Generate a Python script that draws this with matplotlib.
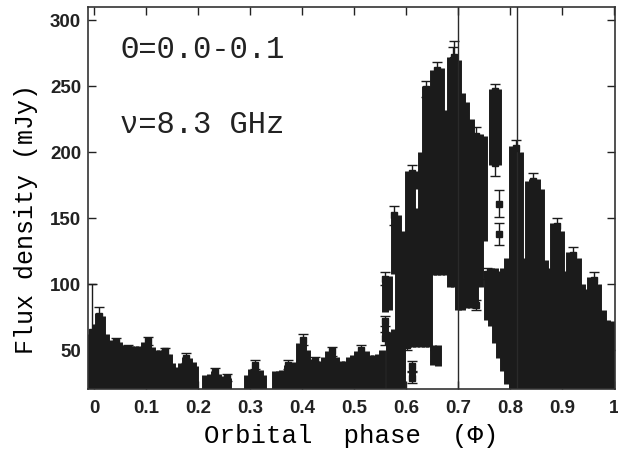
import matplotlib.pyplot as plt

plt.rcParams['font.family'] = ['Liberation Mono', 'DejaVu Sans Mono']

# dense stacks of overlapping measurements: phase, lowest and highest flux (mJy)
band_phase = [-0.006, 0.002, 0.008, 0.015, 0.023, 0.031, 0.039, 0.047, 0.055, 0.063,
              0.071, 0.079, 0.087, 0.095, 0.103, 0.111, 0.119, 0.127, 0.135, 0.143,
              0.150, 0.158, 0.166, 0.174, 0.182, 0.190, 0.194,
              0.214, 0.222, 0.230, 0.238, 0.246, 0.258,
              0.294, 0.302, 0.310, 0.318, 0.325,
              0.347, 0.355, 0.362, 0.370, 0.378, 0.386, 0.394, 0.402, 0.410, 0.418,
              0.426, 0.434, 0.442, 0.450, 0.458, 0.466, 0.474, 0.482, 0.490, 0.498,
              0.506, 0.514, 0.522, 0.530, 0.538, 0.546,
              0.553, 0.559, 0.560, 0.568, 0.568, 0.576, 0.577, 0.584, 0.592,
              0.604, 0.612, 0.612, 0.620, 0.620, 0.628, 0.636, 0.644,
              0.651, 0.661, 0.652, 0.660, 0.668, 0.676, 0.684, 0.692, 0.700,
              0.708, 0.716, 0.724, 0.733, 0.742, 0.749,
              0.755, 0.763, 0.771, 0.779, 0.787, 0.795, 0.766, 0.776,
              0.803, 0.811, 0.819, 0.827, 0.835, 0.843, 0.851, 0.859, 0.867, 0.875,
              0.882, 0.890, 0.898, 0.906, 0.914, 0.922, 0.930, 0.938, 0.946, 0.954,
              0.962, 0.970, 0.978, 0.986, 0.994]
band_low = [15, 15, 15, 15, 15, 15, 15, 15, 15, 15,
            15, 15, 15, 15, 15, 15, 15, 15, 15, 15,
            15, 15, 15, 15, 15, 15, 15,
            15, 15, 15, 15, 15, 15,
            15, 15, 15, 15, 15,
            15, 15, 15, 15, 15, 15, 15, 15, 15, 15,
            15, 15, 15, 15, 15, 15, 15, 15, 15, 15,
            15, 15, 15, 15, 15, 15,
            15, 57, 79, 15, 80, 15, 108, 15, 15,
            52, 52, 27, 52, 172, 52, 52, 52,
            39, 38, 107, 107, 107, 107, 98, 98, 80,
            80, 82, 82, 82, 98, 133,
            73, 68, 55, 44, 34, 24, 190, 190,
            15, 15, 15, 15, 15, 15, 15, 15, 15, 15,
            15, 15, 15, 15, 15, 15, 15, 15, 15, 15,
            15, 15, 15, 15, 15]
band_high = [62, 70, 78, 76, 62, 58, 57, 56, 54, 53,
             53, 53, 53, 56, 57, 52, 50, 50, 50, 47,
             40, 37, 40, 45, 44, 41, 38,
             31, 32, 34, 32, 30, 29,
             31, 36, 39, 35, 31,
             34, 34, 35, 39, 40, 41, 55, 58, 50, 43,
             42, 42, 45, 49, 50, 45, 42, 42, 45, 46,
             49, 51, 49, 46, 46, 47,
             50, 74, 106, 64, 106, 66, 154, 152, 140,
             186, 186, 40, 158, 186, 200, 250, 250,
             54, 54, 262, 264, 264, 232, 272, 272, 270,
             245, 238, 225, 214, 214, 212,
             110, 112, 112, 110, 112, 120, 248, 248,
             205, 205, 200, 120, 178, 180, 180, 172, 118, 112,
             146, 146, 140, 110, 124, 124, 120, 100, 96, 105,
             105, 100, 80, 73, 72]

# individual measurements with visible error bars
pt_phase = [-0.004, 0.010, 0.042, 0.064, 0.104, 0.136, 0.176, 0.233, 0.256, 0.310,
            0.372, 0.402, 0.424, 0.458, 0.514, 0.559, 0.559, 0.559, 0.577, 0.612,
            0.612, 0.612, 0.602, 0.638, 0.660, 0.690, 0.692, 0.655, 0.735, 0.735,
            0.755, 0.771, 0.771, 0.778, 0.778, 0.811, 0.845, 0.890, 0.922, 0.962]
pt_flux = [64, 76, 56, 51, 57, 49, 44, 33, 29, 39,
           39, 58, 42, 49, 50, 104, 72, 59, 152, 184,
           38, 29, 54, 248, 262, 270, 272, 46, 212, 84,
           108, 246, 192, 161, 138, 203, 178, 144, 122, 103]
pt_err = [36, 7, 3, 2.5, 3, 2.5, 4, 3.5, 2.5, 3.5,
          3.5, 4, 2.5, 3.5, 3.5, 5, 4, 5, 7, 6,
          4, 4, 4, 6, 6, 10, 12, 4, 7, 4,
          4, 6, 10, 10, 8, 6, 6, 6, 6, 6]

marker_phase = [0.7, 0.813]

xticks = [0, 0.1, 0.2, 0.3, 0.4, 0.5, 0.6, 0.7, 0.8, 0.9, 1.0]
xtick_labels = ['0', '0.1', '0.2', '0.3', '0.4', '0.5', '0.6', '0.7', '0.8', '0.9', '1']
yticks = [50, 100, 150, 200, 250, 300]

fig = plt.figure(figsize=(6.18, 4.54), dpi=100)
ax = fig.add_axes([0.1424, 0.1432, 0.8528, 0.8414])

ink = '#1b1b1b'
ax.vlines(band_phase, band_low, band_high, colors=ink, linewidth=5.0)
ax.errorbar(pt_phase, pt_flux, yerr=pt_err, fmt='s', ms=5, color=ink,
            ecolor=ink, elinewidth=1, capsize=3.5, capthick=1)
for p in marker_phase:
    ax.axvline(p, color='#2a2a2a', lw=1)

ax.set_xlim(-0.012, 1.002)
ax.set_ylim(20.5, 310)
ax.set_xticks(xticks)
ax.set_xticklabels(xtick_labels)
ax.set_yticks(yticks)
ax.tick_params(direction='in', top=True, right=True, length=6, width=1,
               labelsize=13.5, colors='#222222')
ax.tick_params(axis='x', pad=8)
ax.tick_params(axis='y', pad=5)
for lab in ax.get_xticklabels() + ax.get_yticklabels():
    lab.set_fontfamily('Liberation Sans')
    lab.set_fontweight('bold')
for s in ax.spines.values():
    s.set_linewidth(1.2)
    s.set_color('#333333')

ax.set_xlabel('Orbital  phase  (\u03a6)', fontsize=18.5, labelpad=5)
ax.set_ylabel('Flux density (mJy)', fontsize=18)
ax.yaxis.set_label_coords(-0.095, 0.445)

ax.text(0.061, 0.887, '\u0398=0.0-0.1', transform=ax.transAxes, fontsize=22,
        va='center', ha='left', color='#222222')
ax.text(0.061, 0.691, '\u03bd=8.3 GHz', transform=ax.transAxes, fontsize=22,
        va='center', ha='left', color='#222222')

fig.savefig('out.png', dpi=100)
